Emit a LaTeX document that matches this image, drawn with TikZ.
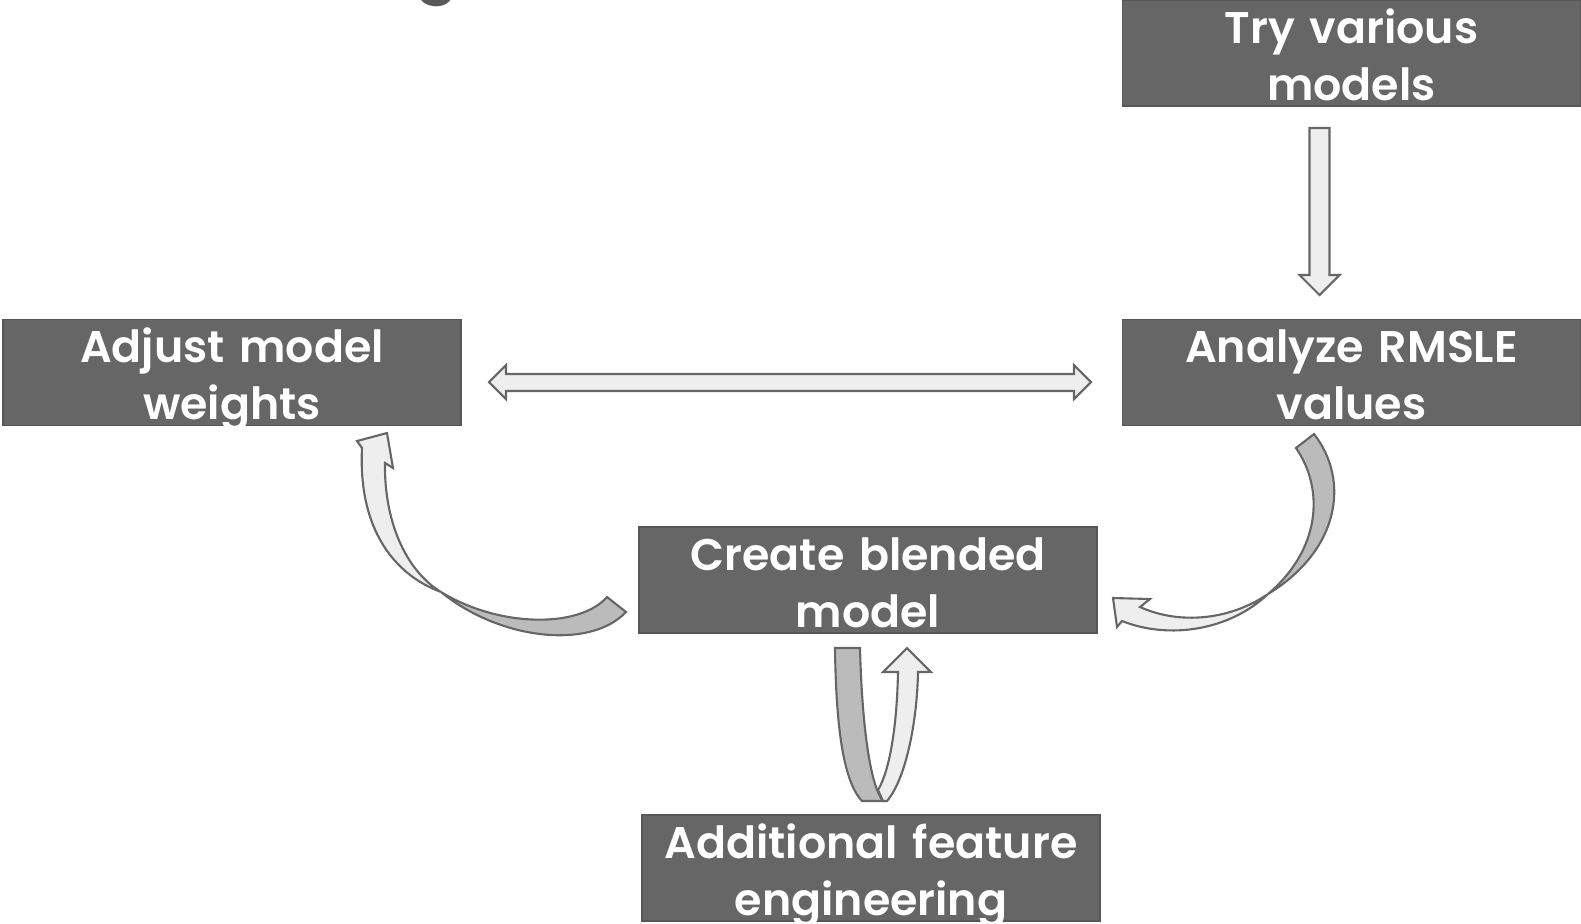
\documentclass[tikz,border=0pt]{standalone}
\usepackage{fontspec}
\setmainfont{Poppins}[BoldFont={* SemiBold}]
\usetikzlibrary{calc}
\definecolor{boxgray}{HTML}{666666}
\definecolor{arrowline}{HTML}{666666}
\definecolor{arrowlight}{HTML}{EEEEEE}
\definecolor{arrowdark}{HTML}{BBBBBB}
\definecolor{titlegray}{HTML}{595959}
\tikzset{
  stage/.style={draw=boxgray!85!black, line width=0.4pt, fill=boxgray,
    minimum width=4.58cm, minimum height=1.06cm, inner sep=0pt},
  stagetext/.style={text=white, font=\fontsize{12.6}{16.2}\selectfont\bfseries,
    text width=4.5cm, align=center, inner sep=0pt, anchor=base},
  front/.style={draw=arrowline, fill=arrowlight, line width=0.6pt},
  back/.style={draw=arrowline, fill=arrowdark, line width=0.6pt},
}
\begin{document}
\begin{tikzpicture}[x=0.01cm, y=-0.01cm]
    \useasboundingbox (0,0) rectangle (1581,923);
    % cut-off title above the page
    \node[text=titlegray, font=\fontsize{18}{20}\selectfont\bfseries, anchor=base, inner sep=0pt] (title) at (437,-11) {g};

    % stages
    \node[stage] (try) at (1351.5,53) {};
    \node[stage] (analyze) at (1351.5,372.5) {};
    \node[stage] (adjust) at (232,372.5) {};
    \node[stage] (blend) at (868,580) {};
    \node[stage] (feature) at (871,868) {};
    \node[stagetext] (trytext) at ([yshift=-0.44cm]try.north) {Try various\\models};
    \node[stagetext] (analyzetext) at ([yshift=-0.44cm]analyze.north) {Analyze RMSLE\\values};
    \node[stagetext] (adjusttext) at ([yshift=-0.44cm]adjust.north) {Adjust model\\weights};
    \node[stagetext] (blendtext) at ([yshift=-0.44cm]blend.north) {Create blended\\model};
    \node[stagetext] (featuretext) at ([yshift=-0.44cm]feature.north) {Additional feature\\engineering};

    % straight block arrows
    \draw[front] (1309.5,128) -- (1329.5,128) -- (1329.5,275) -- (1339.5,275) -- (1319.5,295)
        -- (1299.5,275) -- (1309.5,275) -- cycle;
    \draw[front] (489,382) -- (506,365) -- (506,374) -- (1074,374) -- (1074,365) -- (1091,382)
        -- (1074,399) -- (1074,391) -- (506,391) -- (506,399) -- cycle;

    % blended model back to weights
    \draw[back] (441,592) .. controls (500,640) and (590,650) .. (626,612) -- (607,597)
        .. controls (580,628) and (500,628) .. cycle;
    \draw[front] (441,592) .. controls (395,575) and (358,530) .. (362,448) -- (357,441) -- (387,433)
        -- (393,468) -- (385,463) .. controls (384,520) and (405,570) .. cycle;

    % RMSLE values to blended model
    \draw[back] (1314,434) .. controls (1350,480) and (1340,550) .. (1268,594)
        .. controls (1320,550) and (1325,490) .. (1296,448) -- cycle;
    \draw[front] (1268,594) .. controls (1230,630) and (1170,640) .. (1122,621) -- (1117,627)
        -- (1113,598) -- (1150,599) -- (1140,607) .. controls (1180,625) and (1230,620) .. cycle;

    % feature engineering loop
    \draw[back] (835,648) -- (860,648) .. controls (862,725) and (870,785) .. (883,801) -- (862,801)
        .. controls (842,780) and (836,720) .. cycle;
    \draw[front] (898,672) .. controls (897,725) and (890,770) .. (878,790) -- (883,801) -- (887,801)
        .. controls (905,780) and (917,725) .. (918,672) -- (931,672) -- (907,648) -- (883,672) -- cycle;
\end{tikzpicture}
\end{document}
